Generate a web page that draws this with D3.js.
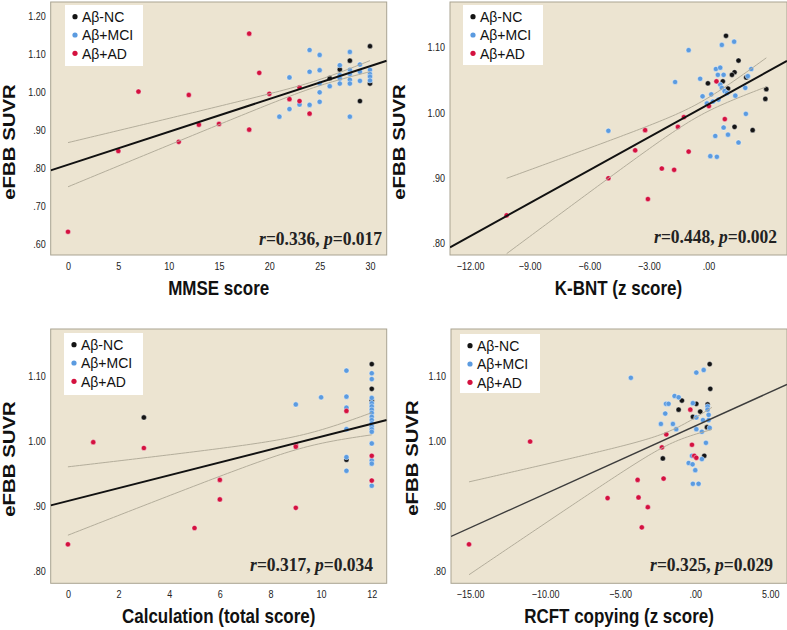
<!DOCTYPE html>
<html><head><meta charset="utf-8">
<script src="https://cdn.jsdelivr.net/npm/d3@7"></script>
<style>body{margin:0;background:#fff}</style>
</head><body><svg id="c" width="787" height="630"></svg>
<script>
// ---------- data ----------
const groupLabels = ['Aβ-NC','Aβ+MCI','Aβ+AD'];
const groupColors = ['#141414','#5b9be0','#d4113f'];
const yTitle = 'eFBB SUVR';
const xTitles = ['MMSE score','K-BNT (z score)','Calculation (total score)','RCFT copying (z score)'];
const statR = ['0.336','0.448','0.317','0.325'];
const statP = ['0.017','0.002','0.034','0.029'];

const ticksX1 = [0,5,10,15,20,25,30];
const ticksX2 = [-12,-9,-6,-3,0];
const ticksX3 = [0,2,4,6,8,10,12];
const ticksX4 = [-15,-10,-5,0,5];
const ticksY1 = [0.6,0.7,0.8,0.9,1.0,1.1,1.2];
const ticksY2 = [0.8,0.9,1.0,1.1];

// regression fit
const fitIntercept = [0.809, 1.0127, 0.9075, 1.0229];
const fitSlope = [0.00862, 0.0169, 0.0099, 0.01044];
// 95% CI of the mean: halfwidth = sqrt(ciHalfMin^2 + ciSpread^2 (x-ciCenterX)^2)
const ciCenterX = [24.78, -0.47, 9.47, -1.53];
const ciHalfMin = [0.008, 0.010, 0.010, 0.010];
const ciSpread = [0.002317, 0.00589, 0.00545, 0.00522];
const ciXMin = [0, -10.16, 0, -15.07];
const ciXMax = [30, 2.91, 12, 1.11];

const mmseNC = [[26,1.036],[27,1.059],[28,1.082],[29,0.976],[30,1.120],[30,1.022]];
const mmseMCI = [[21,0.935],[22,1.038],[22,0.955],[23,0.967],[24,1.110],[24,1.053],[24,0.966],[25,1.097],[25,1.057],[25,1.022],[25,0.999],[25,0.974],[26,1.015],[27,1.070],[27,1.044],[27,1.035],[27,1.022],[28,1.105],[28,1.058],[28,1.047],[28,1.032],[28,1.022],[28,0.935],[29,1.072],[29,1.053],[29,1.029],[30,1.058],[30,1.047],[30,1.040],[30,1.030]];
const mmseAD = [[0,0.633],[5,0.845],[7,1.001],[11,0.869],[12,0.992],[13,0.914],[15,0.916],[18,1.153],[18,0.901],[19,1.050],[20,0.995],[22,0.981],[23,1.012],[23,0.976],[24,0.943]];

const kbntNC = [[0.88,1.118],[1.51,1.080],[1.31,1.062],[1.18,1.058],[1.9,1.054],[-0.03,1.045],[0.72,1.048],[0.98,1.037],[2.91,1.036],[2.86,1.021],[1.31,0.978],[2.22,0.973]];
const kbntMCI = [[-5.04,0.972],[-1.0,1.096],[-1.68,1.047],[-0.42,1.052],[0.37,1.067],[0.59,1.069],[0.67,1.104],[1.29,1.109],[2.15,1.067],[1.98,1.056],[0.47,1.058],[0.76,1.058],[0.59,1.043],[0.67,1.038],[0.81,1.033],[0.93,1.030],[1.85,1.038],[-0.3,1.025],[0.14,1.028],[-0.08,1.014],[0.22,1.017],[0.5,1.020],[1.35,1.026],[1.88,0.998],[0.76,0.977],[0.34,0.964],[0.98,0.966],[1.51,0.954],[0.09,0.933],[0.42,0.932]];
const kbntAD = [[-10.16,0.842],[-5.04,0.899],[-3.69,0.942],[-3.19,0.973],[-3.05,0.867],[-2.35,0.914],[-1.73,0.912],[-1.54,0.978],[-1.24,0.993],[-1.0,0.940],[0.02,1.010],[0.4,1.048],[0.82,0.990]];

const calcNC = [[3,1.036],[11,0.971],[12,1.118],[12,1.080],[12,1.062]];
const calcMCI = [[9,1.056],[10,1.067],[11,1.108],[11,1.068],[11,1.051],[11,1.018],[11,0.975],[11,0.954],[12,1.104],[12,1.095],[12,1.066],[12,1.058],[12,1.053],[12,1.048],[12,1.043],[12,1.037],[12,1.032],[12,1.027],[12,1.022],[12,1.018],[12,1.014],[12,0.996],[12,0.970],[12,0.965],[12,0.931]];
const calcAD = [[0,0.841],[1,0.998],[3,0.989],[5,0.866],[6,0.940],[6,0.910],[9,0.897],[9,0.994],[9,0.991],[11,1.046],[12,0.977],[12,0.939]];

const rcftNC = [[0.96,1.118],[1.0,1.080],[-0.89,1.062],[0.07,1.057],[-1.11,1.048],[0.33,1.045],[-0.16,1.037],[0.82,1.056],[0.78,1.021],[-2.16,0.973],[0.6,0.977]];
const rcftMCI = [[-4.29,1.097],[0.07,1.105],[0.56,1.109],[-1.38,1.069],[-1.11,1.067],[-1.95,1.057],[-1.78,1.057],[-0.16,1.058],[0.82,1.053],[0.82,1.048],[0.89,1.040],[0.89,1.032],[-2.0,1.042],[0.07,1.036],[0.51,1.032],[-2.29,1.026],[-1.49,1.026],[-1.27,1.018],[0.07,1.018],[0.44,1.014],[0.96,1.020],[0.71,0.997],[-0.22,0.977],[0.44,0.972],[-0.44,0.966],[-0.18,0.964],[0.0,0.955],[-0.16,0.934],[0.22,0.934]];
const rcftAD = [[-15.07,0.841],[-11.0,0.999],[-5.84,0.912],[-3.84,0.940],[-3.78,0.913],[-3.16,0.898],[-3.56,0.867],[-2.11,0.942],[-2.22,0.990],[-1.93,1.010],[-0.33,1.048],[-0.22,0.994],[-0.07,0.977],[0.07,0.974]];

// ---------- layout ----------
const fmt2 = d => d3.format('.2f')(d).replace(/^0\./,'.').replace(/^-0\./,'-.');
const fmtInt = d => String(d);
const panels = [
  {series:[mmseNC,mmseMCI,mmseAD], xt:ticksX1, yt:ticksY1, xf:fmtInt, xd:[-1.72,31.66], yd:[0.572,1.236], box:[50.7,2,386.7,255], ytx:9, yty:142, leg:[65,5,78,61], ann:[382,245], fitW:2, fitC:'#111'},
  {series:[kbntNC,kbntMCI,kbntAD], xt:ticksX2, yt:ticksY2, xf:fmt2, xd:[-13.01,3.95], yd:[0.781,1.170], box:[450,2,787,255], ytx:399, yty:142, leg:[463,5,80,60], ann:[777,243], fitW:2, fitC:'#111'},
  {series:[calcNC,calcMCI,calcAD], xt:ticksX3, yt:ticksY2, xf:fmtInt, xd:[-0.68,12.59], yd:[0.781,1.172], box:[50.7,329,386.7,583.3], ytx:9, yty:459, leg:[64,333,79,62], ann:[373,571], fitW:2, fitC:'#111'},
  {series:[rcftNC,rcftMCI,rcftAD], xt:ticksX4, yt:ticksY2, xf:fmt2, xd:[-16.27,6.11], yd:[0.781,1.172], box:[451,329,787,583.3], ytx:412, yty:458, leg:[460,334,80,59], ann:[773,571], fitW:1.4, fitC:'#3c3c3c'}
];

const svg = d3.select('#c');
const SANS = '"Liberation Sans", Arial, sans-serif';
const SERIF = '"Liberation Serif", "Times New Roman", serif';
const SY = 1.2;

panels.forEach((p, i) => {
  const [x0,y0,x1,y1] = p.box;
  const x = d3.scaleLinear().domain(p.xd).range([x0,x1]);
  const y = d3.scaleLinear().domain(p.yd).range([y1,y0]);
  const g = svg.append('g');
  const clipId = 'clip'+i;
  svg.append('clipPath').attr('id',clipId).append('rect')
    .attr('x',x0).attr('y',y0).attr('width',x1-x0).attr('height',y1-y0);

  g.append('rect').attr('x',x0).attr('y',y0).attr('width',x1-x0).attr('height',y1-y0)
    .attr('fill','#ece4d1').attr('stroke','#a9a391').attr('stroke-width',1);

  // axes
  const ax = g.append('g').attr('transform',`translate(0,${y1})`)
    .call(d3.axisBottom(x).tickValues(p.xt).tickFormat(p.xf).tickSize(0).tickPadding(6));
  ax.select('.domain').remove();
  ax.selectAll('text').attr('font-family',SANS).attr('font-size',9).attr('fill','#222')
    .attr('transform',`scale(1,${SY})`);
  const ay = g.append('g').attr('transform',`translate(${x0},0)`)
    .call(d3.axisLeft(y).tickValues(p.yt).tickFormat(fmt2).tickSize(0).tickPadding(5));
  ay.select('.domain').remove();
  ay.selectAll('text').attr('font-family',SANS).attr('font-size',9).attr('fill','#222')
    .attr('transform',`scale(1,${SY})`);

  // titles
  g.append('text').attr('transform',`translate(${(x0+x1)/2},${y1+40}) scale(1,${SY})`)
    .attr('text-anchor','middle').attr('font-family',SANS).attr('font-weight','bold')
    .attr('font-size',17).attr('fill','#111').text(xTitles[i]);
  g.append('text').attr('transform',`translate(${p.ytx},${p.yty}) scale(1,${SY}) rotate(-90)`)
    .attr('text-anchor','middle').attr('dominant-baseline','central').attr('font-family',SANS).attr('font-weight','bold')
    .attr('font-size',17).attr('fill','#111').text(yTitle);

  // points
  const pg = g.append('g').attr('clip-path',`url(#${clipId})`);
  p.series.forEach((s, k) => {
    pg.selectAll(null).data(s).enter().append('circle')
      .attr('cx',d=>x(d[0])).attr('cy',d=>y(d[1])).attr('r',2.6)
      .attr('fill',groupColors[k]).attr('stroke','#ffffff').attr('stroke-opacity',0.6).attr('stroke-width',0.7);
  });

  // CI curves and fit line
  const xs = d3.range(ciXMin[i], ciXMax[i] + 1e-9, (ciXMax[i]-ciXMin[i])/80);
  const hw = xv => Math.sqrt(ciHalfMin[i]**2 + (ciSpread[i]*(xv-ciCenterX[i]))**2);
  const fit = xv => fitIntercept[i] + fitSlope[i]*xv;
  const line = d3.line().x(d=>x(d[0])).y(d=>y(d[1]));
  [1,-1].forEach(sg => {
    pg.append('path').datum(xs.map(xv=>[xv, fit(xv)+sg*hw(xv)]))
      .attr('d',line).attr('fill','none').attr('stroke','#b3ad9b').attr('stroke-width',1);
  });
  pg.append('path').datum([[p.xd[0],fit(p.xd[0])],[p.xd[1],fit(p.xd[1])]])
    .attr('d',line).attr('fill','none').attr('stroke',p.fitC).attr('stroke-width',p.fitW);

  // legend
  const [lx,ly,lw,lh] = p.leg;
  const lg = g.append('g');
  lg.append('rect').attr('x',lx).attr('y',ly).attr('width',lw).attr('height',lh).attr('fill','#fff');
  groupLabels.forEach((lab,k) => {
    const cy = ly + 11.7 + k*18.3;
    lg.append('circle').attr('cx',lx+10).attr('cy',cy).attr('r',2.6).attr('fill',groupColors[k]);
    lg.append('text').attr('transform',`translate(${lx+17},${cy}) scale(1,1.1)`)
      .attr('dominant-baseline','central').attr('font-family',SANS).attr('font-size',14)
      .attr('fill','#111').text(lab);
  });

  // annotation
  const t = g.append('text').attr('transform',`translate(${p.ann[0]},${p.ann[1]}) scale(1,1.1)`)
    .attr('text-anchor','end').attr('font-family',SERIF).attr('font-weight','bold')
    .attr('font-size',17.5).attr('fill','#222');
  t.append('tspan').attr('font-style','italic').text('r');
  t.append('tspan').text('=' + statR[i] + ', ');
  t.append('tspan').attr('font-style','italic').text('p');
  t.append('tspan').text('=' + statP[i]);
});
</script></body></html>
